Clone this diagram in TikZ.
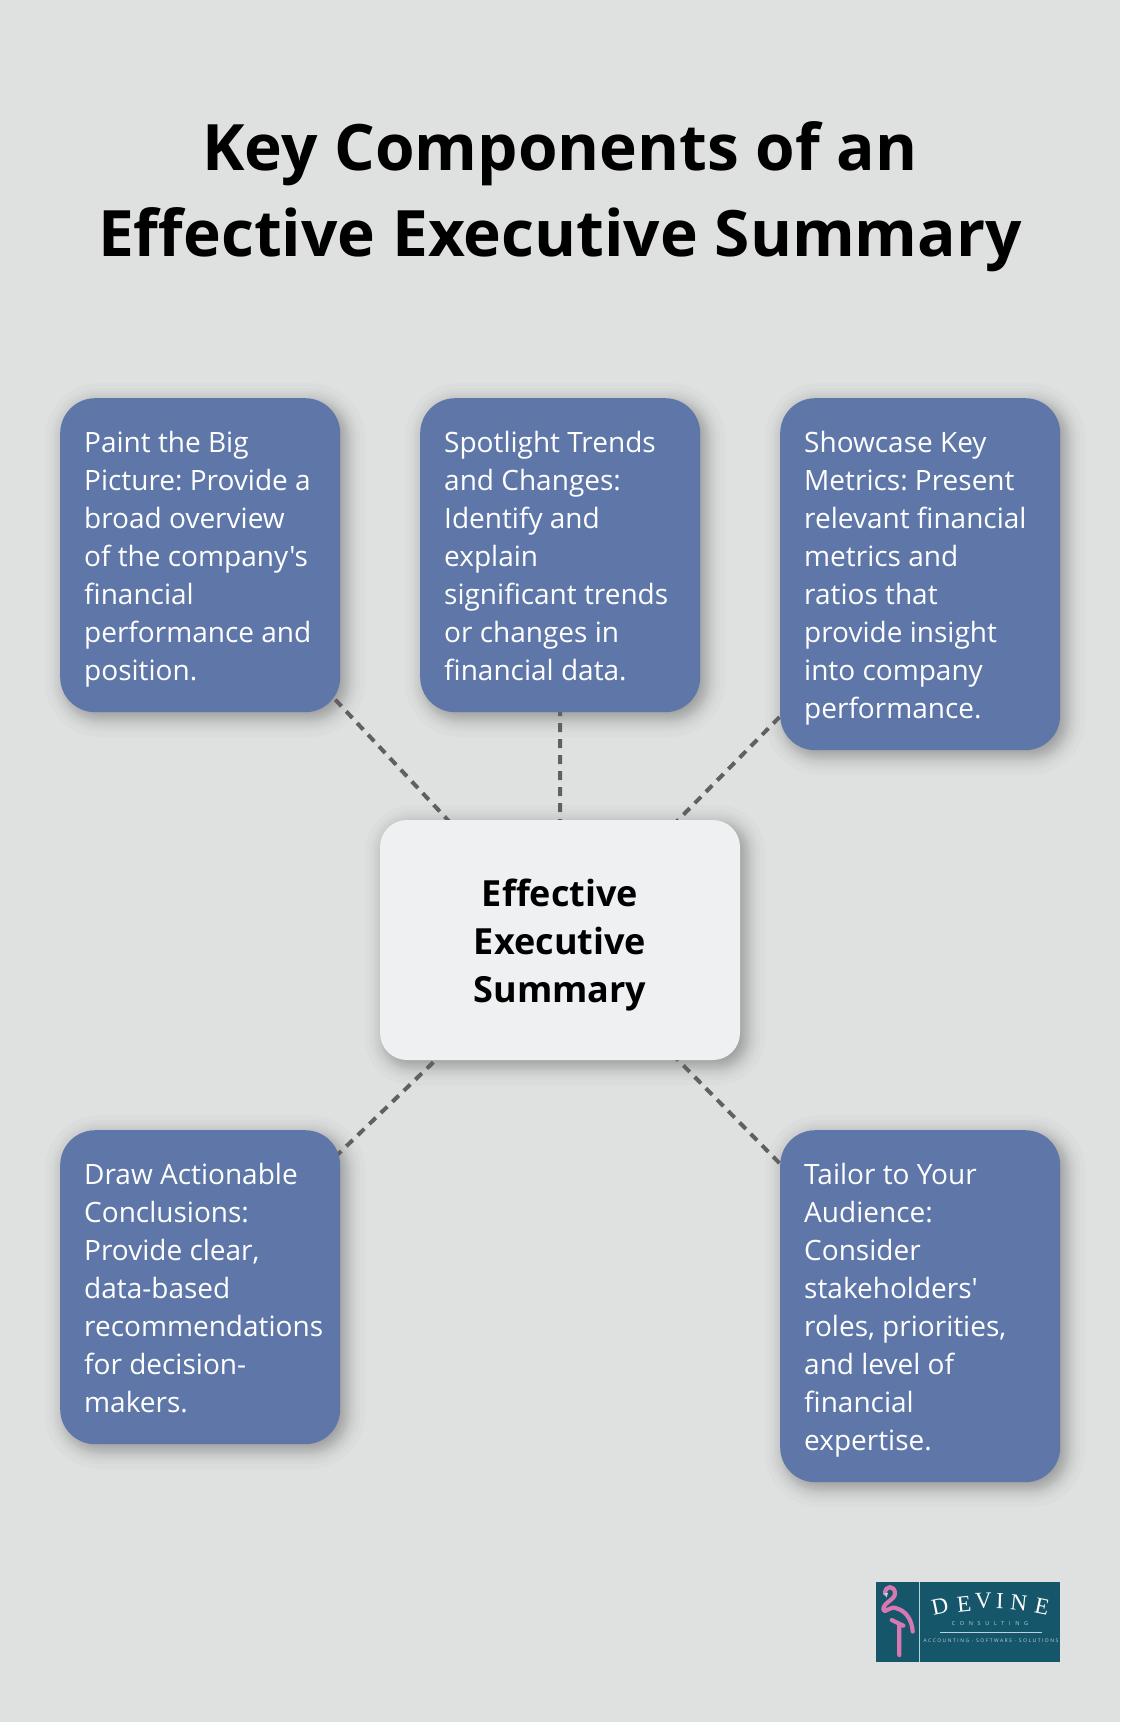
\documentclass[tikz,border=0pt]{standalone}
\usepackage{fontspec}
\setmainfont{Open Sans}[Ligatures=TeXOff]
\definecolor{pagebg}{HTML}{DFE1E0}
\definecolor{cardblue}{HTML}{5E77A8}
\definecolor{hubfill}{HTML}{EFF0F2}
\definecolor{linkgray}{HTML}{606060}
\definecolor{logoteal}{HTML}{16566B}
\definecolor{logopink}{HTML}{D877B0}
\definecolor{logopale}{HTML}{B9D3DC}
\newcommand{\cardstrut}{\rule[-7.5pt]{0pt}{38pt}}
\pgfdeclarelayer{boxes}
\pgfsetlayers{main,boxes}
\tikzset{
	card/.style={fill=cardblue,text=white,rounded corners=35pt,anchor=north west,minimum width=280pt,
		text width=232pt,inner xsep=24pt,inner ysep=0pt,align=flush left,font=\fontsize{28}{38}\selectfont\frenchspacing,
		execute at begin node=\cardstrut,execute at end node=\cardstrut},
	hub/.style={fill=hubfill,rounded corners=27pt,minimum width=360pt,minimum height=240pt,
		inner sep=0pt,align=flush center,font=\fontsize{36}{48.3}\selectfont\bfseries},
	link/.style={linkgray,line width=4pt,dash pattern=on 9pt off 7pt},
	logoline/.style={logopink,line width=4.2pt,line cap=round,line join=round}
}
\begin{document}
\begin{tikzpicture}[x=1pt,y=-1pt]
	\fill[pagebg] (0,0) rectangle (1120,1722);
	\useasboundingbox (0,0) rectangle (1120,1722);
	\node[align=flush center,font=\fontsize{64}{86}\selectfont\bfseries] (title) at (560,197) {Key Components of an\\Effective Executive Summary};
	% shadows under the boxes
	\foreach \sx/\sy/\sw/\sh/\sr in {60/398/280/314/35,420/398/280/314/35,780/398/280/352/35,60/1130/280/314/35,780/1130/280/352/35,380/820/360/240/27}
	\foreach \k in {-20,-15,-12,-10,-8,-6,-5,-4,-3,-2,-1,0,1,2,3,4,5,6,8,10,12,15,20}
	\fill[black,opacity=.015,rounded corners={(\sr+\k)*1pt}] (\sx+5-\k,\sy+5-\k) rectangle (\sx+\sw+5+\k,\sy+\sh+5+\k);
	% cards
	\begin{pgfonlayer}{boxes}
	\node[card,minimum height=314pt] (bigpicture) at (60,398) {Paint the Big\\Picture: Provide a\\broad overview\\of the company's\\financial\\performance and\\position.};
	\node[card,minimum height=314pt] (trends) at (420,398) {Spotlight Trends\\and Changes:\\Identify and\\explain\\significant trends\\or changes in\\financial data.};
	\node[card,minimum height=352pt] (metrics) at (780,398) {Showcase Key\\Metrics: Present\\relevant financial\\metrics and\\ratios that\\provide insight\\into company\\performance.};
	\node[card,minimum height=314pt] (conclusions) at (60,1130) {Draw Actionable\\Conclusions:\\Provide clear,\\data-based\\recommendations\\for decision-\\makers.};
	\node[card,minimum height=352pt] (audience) at (780,1130) {Tailor to Your\\Audience:\\Consider\\stakeholders'\\roles, priorities,\\and level of\\financial\\expertise.};
	\node[hub] (summary) at (560,940) {\rule{0pt}{38pt}Effective\\Executive\\Summary};
	\end{pgfonlayer}
	\foreach \card in {bigpicture,trends,metrics,conclusions,audience}
	\draw[link] (summary.center)--(\card.center);
	% logo
	\fill[logoteal] (876,1582) rectangle (1060,1662);
	\draw[logopale,line width=.7pt] (919,1582)--(919,1662);
	\draw[logoline] (885,1593.5)..controls (885,1585) and (895,1585)..(895,1593.5)
		..controls (895,1600) and (882,1603)..(883.5,1610)
		..controls (885,1614) and (890,1605)..(897,1608.5)
		..controls (906,1611) and (912,1620)..(912.7,1631.5);
	\draw[logoline] (891.7,1620)--(903.3,1625.7) (899.3,1625.7)--(899.3,1655);
	\fill[logopale] (884,1593) -- (888,1593) -- (886.5,1597.5) -- cycle;
	\foreach \letter/\lx/\ly/\lrot [count=\i] in {D/940/1606.7/12,E/964/1604/6,V/983.3/1600.7/2,I/1000/1600.7/-2,N/1019/1602.7/-6,E/1042/1606.7/-12}
	\node[text=white,font=\fontsize{23}{23}\selectfont,rotate=\lrot,inner sep=0pt] (logoletter\i) at (\lx,\ly) {\fontspec{Liberation Serif}\letter};
	\node[text=logopale,inner sep=0pt,font=\fontsize{5.5}{6}\selectfont] (logosub) at (990,1623.5) {\addfontfeatures{LetterSpace=85}CONSULTING};
	\draw[logopale,line width=.5pt] (940,1632)--(1042,1632);
	\node[text=logopale,inner sep=0pt,font=\fontsize{5}{6}\selectfont] (logotag) at (991,1640.3) {\addfontfeatures{LetterSpace=30}ACCOUNTING · SOFTWARE · SOLUTIONS};
\end{tikzpicture}
\end{document}
